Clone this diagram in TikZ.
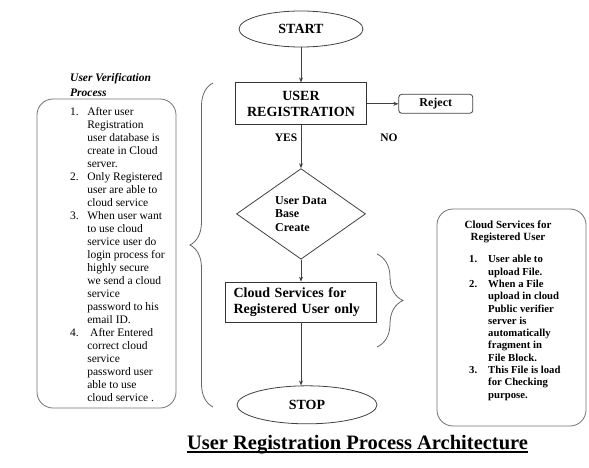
\documentclass[tikz,border=0pt]{standalone}
\usepackage{fontspec}
\setmainfont{Liberation Serif}
\usetikzlibrary{shapes.geometric, arrows.meta, positioning, decorations.pathreplacing}
\tikzstyle{terminal} = [ellipse, draw=black!75, line width=0.8pt, inner sep=0pt, font=\bfseries\fontsize{14}{16}\selectfont]
\tikzstyle{process} = [rectangle, draw=black!80, line width=0.8pt, inner sep=0pt, align=center, font=\bfseries\fontsize{14}{16}\selectfont]
\tikzstyle{decision} = [diamond, draw=black!75, line width=0.8pt, inner sep=1pt, align=left, font=\bfseries\fontsize{12}{13.5}\selectfont]
\tikzstyle{rejectbox} = [rectangle, rounded corners=3pt, draw=black!75, line width=0.8pt, inner sep=0pt, font=\bfseries\fontsize{12}{14}\selectfont]
\tikzstyle{panel} = [rectangle, rounded corners=16pt, draw=black!55, line width=0.8pt]
\tikzstyle{lbl} = [inner sep=0pt, font=\bfseries\fontsize{11.5}{13}\selectfont]
\tikzstyle{arrow} = [line width=0.8pt, draw=black!75, -{Stealth[length=5pt,width=4pt]}]
\tikzstyle{curly} = [line width=0.8pt, draw=black!60, decorate]

\begin{document}
\begin{tikzpicture}[x=1pt, y=-1pt, node distance=20pt]
  \useasboundingbox (0,0) rectangle (589,468);

  % Main flow
  \node[terminal, minimum width=124pt, minimum height=36pt] (start) at (301,29) {START};
  \node[process, minimum width=131pt, minimum height=42pt, below=35pt of start] (reg) {USER\\REGISTRATION};
  \node[rejectbox, minimum width=74pt, minimum height=19pt, right=31.5pt of reg] (reject) {Reject};
  \node[decision, minimum width=129pt, minimum height=87pt, below=43pt of reg] (db) {User Data\\Base\\Create};
  \node[process, minimum width=151pt, minimum height=40pt, text width=135pt, inner xsep=8pt, align=left, below=22pt of db] (cloud) {Cloud Services for\\Registered User only};
  \node[terminal, minimum width=140pt, minimum height=38pt, below=63pt of cloud, xshift=6pt] (stop) {STOP};

  % Branch labels
  \node[lbl] (yes) at (286,138) {YES};
  \node[lbl] (no) at (389,138) {NO};

  % Connections
  \draw[arrow] (start) -- (reg);
  \draw[arrow] (reg) -- (reject);
  \draw[arrow] (reg) -- (db);
  \draw[arrow] (db) -- (cloud);
  \draw[arrow] (cloud.south) -- (cloud.south |- stop.north);

  % User verification panel
  \node[panel, minimum width=139pt, minimum height=309pt] (vbox) at (106.5,253.5) {};
  \node[anchor=north west, inner sep=0pt, align=left, font=\bfseries\itshape\fontsize{11.5}{15}\selectfont] (vhead) at (70,73) {User Verification\\Process};
  \node[anchor=north west, inner sep=0pt, font=\fontsize{11.5}{13}\selectfont] (vlist) at (70,106.5) {%
    \begin{tabular}{@{}l@{\hspace{8.5pt}}l@{}}
      1. & After user\\
         & Registration\\
         & user database is\\
         & create in Cloud\\
         & server.\\
      2. & Only Registered\\
         & user are able to\\
         & cloud service\\
      3. & When user want\\
         & to use cloud\\
         & service user do\\
         & login process for\\
         & highly secure\\
         & we send a cloud\\
         & service\\
         & password to his\\
         & email ID.\\
      4. & \ After Entered\\
         & correct cloud\\
         & service\\
         & password user\\
         & able to use\\
         & cloud service .
    \end{tabular}};

  % Cloud services panel
  \node[panel, minimum width=149pt, minimum height=217pt] (rbox) at (511.5,317.5) {};
  \node[anchor=north, inner sep=0pt, align=center, font=\bfseries\fontsize{11}{12}\selectfont] (rhead) at (508,221) {Cloud Services for\\Registered User};
  \node[anchor=north west, inner sep=0pt, font=\bfseries\fontsize{10.7}{12.3}\selectfont] (rlist) at (469,254) {%
    \begin{tabular}{@{}l@{\hspace{11pt}}l@{}}
      1. & User able to\\
         & upload File.\\
      2. & When a File\\
         & upload in cloud\\
         & Public verifier\\
         & server is\\
         & automatically\\
         & fragment in\\
         & File Block.\\
      3. & This File is load\\
         & for Checking\\
         & purpose.
    \end{tabular}};

  % Braces
  \draw[curly, decoration={brace, amplitude=23pt}] (213,407) -- (213,83);
  \draw[curly, decoration={brace, amplitude=26pt}] (377,254) -- (377,347);

  % Title
  \node[anchor=base, inner sep=0pt, font=\bfseries\fontsize{20.5}{23}\selectfont] (title) at (357.5,449) {User Registration Process Architecture};
  \draw[line width=1.6pt] ([yshift=-3pt]title.base west) -- ([yshift=-3pt]title.base east);
\end{tikzpicture}
\end{document}
